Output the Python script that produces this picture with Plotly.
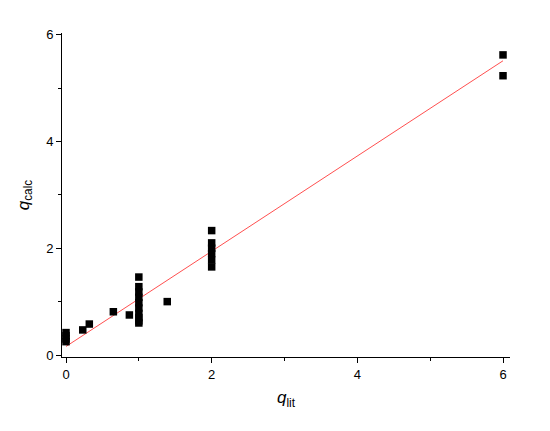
import plotly.graph_objects as go

# Data
q_lit = [0, 0, 0, 0,
         0.23, 0.32, 0.65, 0.87,
         1, 1, 1, 1, 1, 1, 1, 1, 1, 1,
         1.39,
         2, 2, 2, 2, 2, 2,
         6, 6]
q_calc = [0.25, 0.30, 0.36, 0.42,
          0.47, 0.58, 0.81, 0.75,
          1.46, 1.28, 1.18, 1.08, 0.98, 0.88, 0.78, 0.70, 0.64, 0.60,
          1.00,
          2.33, 2.10, 2.00, 1.90, 1.78, 1.65,
          5.62, 5.23]

fit_x = [0, 6]
fit_y = [0.16, 5.51]

x_ticks = [0, 2, 4, 6]
y_ticks = [0, 2, 4, 6]

fig = go.Figure()
fig.add_trace(go.Scatter(x=fit_x, y=fit_y, mode="lines",
                         line=dict(color="rgba(255,60,60,0.9)", width=1),
                         showlegend=False, hoverinfo="skip"))
fig.add_trace(go.Scatter(x=q_lit, y=q_calc, mode="markers",
                         marker=dict(symbol="square", size=7.5, color="black"),
                         showlegend=False))

axis_common = dict(showgrid=False, zeroline=False, showline=True, linecolor="black",
                   linewidth=1, ticks="outside", ticklen=5, tickwidth=1, tickcolor="black",
                   tickfont=dict(family="Liberation Sans, Arial", size=13, color="black"),
                   minor=dict(dtick=1, ticks="outside", ticklen=3, tickcolor="black", tickwidth=1),
                   mirror=False, automargin=False)

fig.update_layout(
    width=550, height=431,
    paper_bgcolor="white", plot_bgcolor="white",
    margin=dict(l=54, r=48, t=25, b=82),
    xaxis=dict(range=[-0.055, 6.096], tickvals=x_ticks,
               title=dict(text="<i>q</i><sub>lit</sub>", standoff=10,
                          font=dict(family="Liberation Sans, Arial", size=17, color="black")),
               **axis_common),
    yaxis=dict(range=[-0.037, 6.03], tickvals=y_ticks,
               title=dict(text="<i>q</i><sub>calc</sub>", standoff=12,
                          font=dict(family="Liberation Sans, Arial", size=17, color="black")),
               **axis_common),
)

fig.write_html("out.html")
